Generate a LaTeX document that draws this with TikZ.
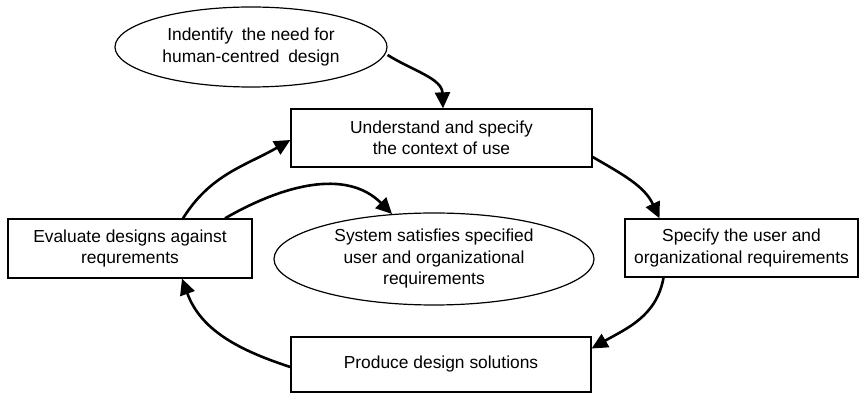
\documentclass[tikz,border=0pt]{standalone}
\usepackage{fontspec}
\setmainfont{Liberation Sans}
\usetikzlibrary{shapes.geometric,arrows.meta}
\begin{document}
\begin{tikzpicture}[x=1pt,y=1pt,
  every node/.style={font=\fontsize{17.4}{21.5}\selectfont, align=center, inner sep=0pt},
  boxnode/.style={draw, line width=1.3pt, rectangle},
  ellnode/.style={draw, line width=1.2pt, ellipse},
  flow/.style={line width=2.6pt, -{Triangle[length=16pt,width=15pt]}}]
\useasboundingbox (0,0) rectangle (860,393);
\node[ellnode, minimum width=272pt, minimum height=80pt] (need) at (251,346) {Indentify\hspace{4pt} the need for\\human-centred\hspace{4pt} design};
\node[boxnode, minimum width=301pt, minimum height=58pt] (ctx) at (441.5,255) {Understand and specify\\the context of use};
\node[boxnode, minimum width=233pt, minimum height=58pt] (spec) at (741.5,145) {Specify the user and\\organizational requirements};
\node[boxnode, minimum width=300pt, minimum height=55pt] (prod) at (441,28.5) {Produce design solutions};
\node[boxnode, minimum width=244pt, minimum height=59pt] (eval) at (130,144.5) {Evaluate designs against\\requrements};
\node[ellnode, minimum width=320pt, minimum height=92pt] (sys) at (434,134) {System satisfies specified\\user and organizational\\requirements};
\draw[flow] ([yshift=-8pt]need.east) to[out=-32,in=92] ([xshift=1.5pt]ctx.north);
\draw[flow] ([yshift=-19pt]ctx.east) to[out=-30,in=115] ([xshift=-82pt]spec.north);
\draw[flow] ([xshift=-78pt]spec.south) to[out=-100,in=30] ([yshift=16pt]prod.east);
\draw[flow] ([yshift=-2.5pt]prod.west) to[out=162,in=-70] ([xshift=52pt]eval.south);
\draw[flow] ([xshift=53pt]eval.north) to[out=58,in=210] ([yshift=-2pt]ctx.west);
\draw[flow] ([xshift=95pt]eval.north) to[out=30,in=135] (sys.133);
\end{tikzpicture}
\end{document}
